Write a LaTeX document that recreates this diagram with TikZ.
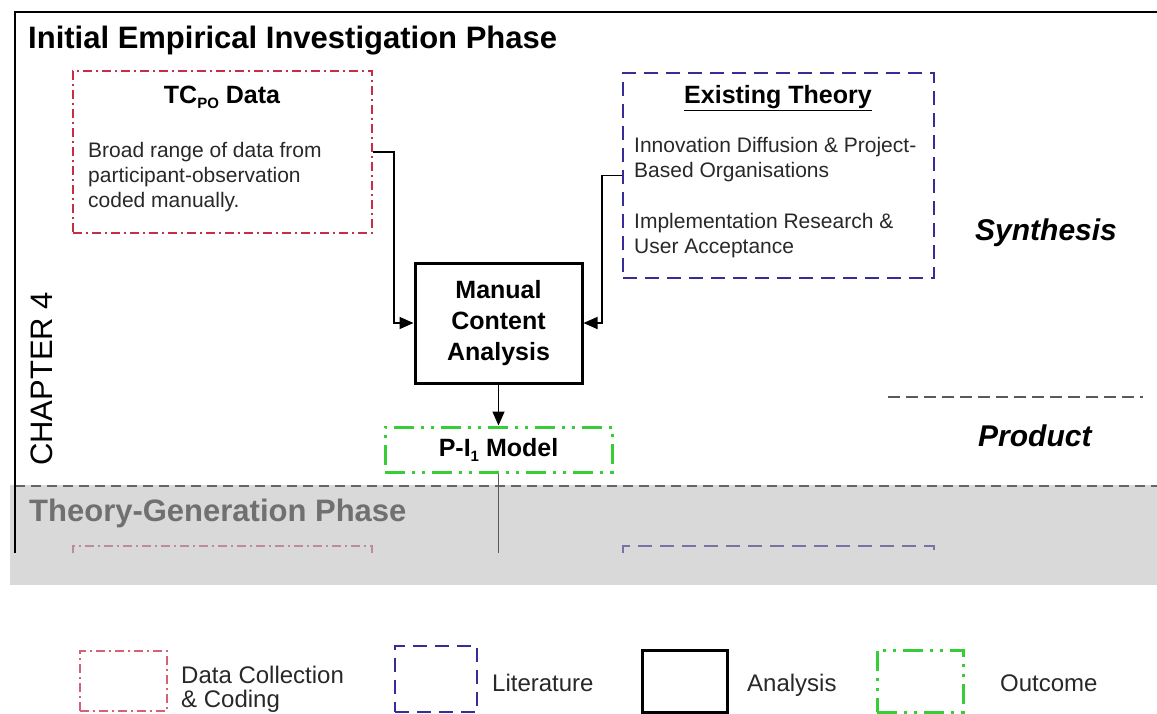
\documentclass[tikz,border=0pt]{standalone}
\usepackage{fontspec}
\setmainfont{Liberation Sans}
\usetikzlibrary{arrows.meta}
\newcommand\setfs[2]{\fontsize{#1}{#2}\selectfont}
\definecolor{dcred}{RGB}{200,45,70}
\definecolor{dcfade}{RGB}{190,140,150}
\definecolor{litblue}{RGB}{55,45,150}
\definecolor{litfade}{RGB}{120,115,165}
\definecolor{outgreen}{RGB}{55,205,55}
\definecolor{band}{RGB}{217,217,217}
\definecolor{fadetxt}{RGB}{112,112,112}
\definecolor{bodyink}{RGB}{40,40,40}
\tikzset{
  datacoll/.style={draw=dcred, line width=1.8pt, dash pattern=on 9pt off 4pt on 2pt off 4pt, inner sep=0pt},
  litbox/.style={draw=litblue, line width=2.5pt, dash pattern=on 14pt off 8pt, inner sep=0pt},
  anbox/.style={draw=black, line width=3pt, inner sep=0pt},
  outbox/.style={draw=outgreen, line width=3pt, dash pattern=on 20pt off 7pt on 3pt off 7pt on 3pt off 7pt, inner sep=0pt},
  conn/.style={line width=1.5pt, -{Triangle[length=14pt,width=12pt]}},
  boxtitle/.style={font=\setfs{25}{31}\bfseries, inner sep=0pt, align=center},
  bodytxt/.style={font=\setfs{21}{25}, text=bodyink, align=left, anchor=north west, inner sep=0pt},
  phase/.style={font=\setfs{31}{36}\bfseries, anchor=base west, inner sep=0pt},
  layer/.style={font=\setfs{30}{34}\bfseries\itshape, anchor=base west, inner sep=0pt},
  legtxt/.style={font=\setfs{24}{24}, text=bodyink, anchor=base west, inner sep=0pt, align=left},
}
\begin{document}
\begin{tikzpicture}[x=1pt,y=-1pt]
\useasboundingbox (0,0) rectangle (1157,713);

% shaded band of the following phase
\fill[band] (10,485) rectangle (1157,585);
\draw[black!60, line width=1.5pt, dash pattern=on 10pt off 6pt] (15,486) -- (1157,486);

% frame of the first phase
\draw[black, line width=2pt] (15,553) -- (15,12) -- (1157,12);

% phase titles
\node[phase] (ph1) at (28,48) {Initial Empirical Investigation Phase};
\node[phase, text=fadetxt] (ph2) at (29,521) {Theory-Generation Phase};
\node[font=\setfs{31}{34}, rotate=90, inner sep=0pt] (chap) at (42,379) {CHAPTER 4};

% data collection box
\node[datacoll, minimum width=299pt, minimum height=162pt] (tc) at (222.5,152) {};
\node[boxtitle, anchor=base] (tct) at (222,103) {TC\raisebox{-5pt}{\setfs{15}{15}PO} Data};
\node[bodytxt] (tcb) at (88,141.7) {Broad range of data from\\participant-observation\\coded manually.};

% literature box
\node[litbox, minimum width=311pt, minimum height=205pt] (ex) at (778.5,175.5) {};
\node[boxtitle, anchor=base] (ext) at (778,103) {\underline{Existing Theory}};
\node[bodytxt] (exb1) at (634,136.7) {Innovation Diffusion \& Project-\\Based Organisations};
\node[bodytxt] (exb2) at (634,212.7) {Implementation Research \&\\User Acceptance};

% analysis box
\node[anbox, minimum width=167pt, minimum height=120pt, font=\setfs{25}{31}\bfseries, align=center] (mca) at (498.5,323) {Manual\\Content\\Analysis};

% outcome box
\node[outbox, minimum width=227pt, minimum height=45pt, font=\setfs{25}{31}\bfseries] (pm) at (498.5,449.5) {P-I\raisebox{-5pt}{\setfs{15}{15}1} Model};

% connectors
\draw[conn] (tc.east) -- ++(21,0) |- (mca.west);
\draw[conn] (ex.west) -- ++(-20,0) |- (mca.east);
\draw[conn] (mca.south) -- (pm.north);
\coordinate (pmdown) at (498.5,553);
\draw[black!65, line width=1.5pt] (pm.south) -- (pmdown);

% faded tops of the next phase's boxes
\draw[datacoll, draw=dcfade, line width=1.5pt] (73,553) -- (73,546) -- (372,546) -- (372,553);
\draw[litbox, draw=litfade, line width=2pt] (623,553) -- (623,546) -- (934,546) -- (934,553);

% layer labels
\node[layer] (syn) at (975,240) {Synthesis};
\draw[black!65, line width=2pt, dash pattern=on 12pt off 6pt] (888,397) -- (1143,397);
\node[layer] (prod) at (978,446) {Product};

% legend
\node[datacoll, draw=dcred!75, line width=1.5pt, minimum width=87pt, minimum height=60pt] (lg1) at (123.5,681) {};
\node[legtxt, anchor=north west] (lt1) at (181,666) {Data Collection\\\& Coding};
\node[litbox, line width=2pt, minimum width=82pt, minimum height=66pt] (lg2) at (436,678.5) {};
\node[legtxt] (lt2) at (492,691) {Literature};
\node[anbox, minimum width=85pt, minimum height=62pt] (lg3) at (684.5,681.5) {};
\node[legtxt] (lt3) at (747,691) {Analysis};
\node[outbox, minimum width=86pt, minimum height=62pt] (lg4) at (920,681) {};
\node[legtxt] (lt4) at (1000,691) {Outcome};
\end{tikzpicture}
\end{document}
